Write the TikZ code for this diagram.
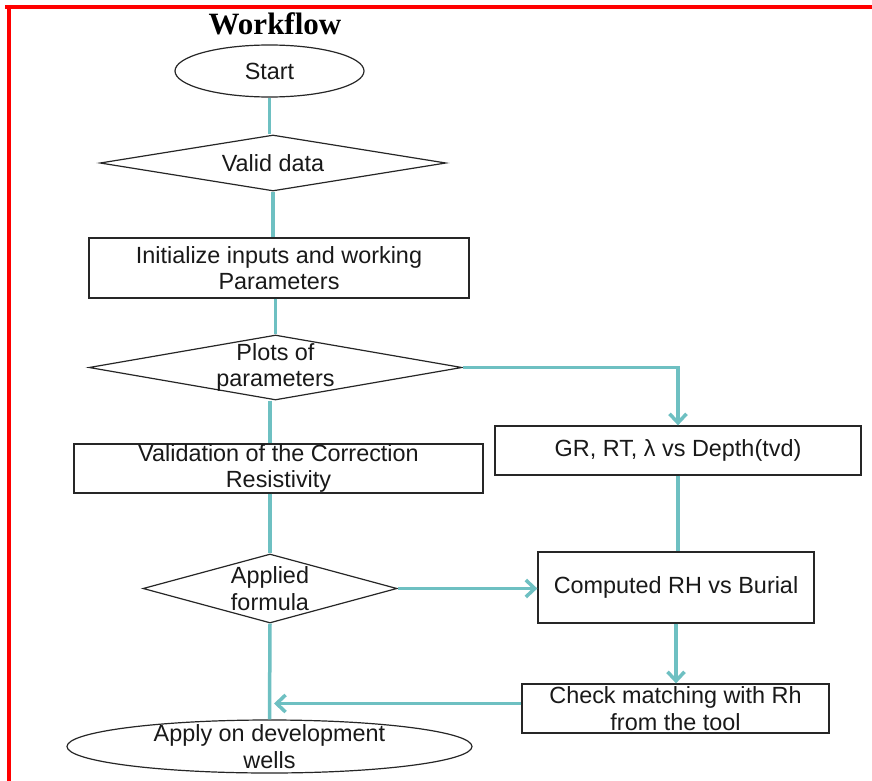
\documentclass[tikz,border=0pt]{standalone}
\usepackage{fontspec}
\setmainfont{Liberation Sans}
\newfontfamily\titlefont{Liberation Serif}
\usetikzlibrary{shapes.geometric,arrows.meta}
\definecolor{tealc}{RGB}{110,192,194}
\begin{document}
\begin{tikzpicture}[x=1pt,y=-1pt,
  txt/.style={font=\fontsize{23.4}{26.5}\selectfont, align=center, text=black!90},
  boxn/.style={draw=black!85, line width=1.3pt, rectangle, inner sep=0pt, txt},
  dia/.style={draw=black!85, line width=1.2pt, diamond, inner sep=0pt},
  ell/.style={draw=black!85, line width=1.2pt, ellipse, inner sep=0pt},
  conn/.style={draw=tealc, line width=3.5pt},
  arr/.style={conn, -{Straight Barb[length=9pt,width=17pt]}},
]
\useasboundingbox (0,0) rectangle (872,781);
\fill[white] (0,0) rectangle (872,781);
\draw[red, line width=4pt] (5,7) -- (872,7);
\draw[red, line width=4pt] (9,5) -- (9,781);

\node[font=\titlefont\bfseries\fontsize{31}{31}\selectfont] (title) at (275,24) {Workflow};

\node[ell, minimum width=189pt, minimum height=52pt, txt] (start) at (269.5,71) {Start};
\node[dia, minimum width=346pt, minimum height=56pt, label={[txt]center:Valid data}] (valid) at (273,163) {};
\node[boxn, minimum width=380pt, minimum height=60pt] (init) at (279,268) {Initialize inputs and working\\Parameters};
\node[dia, minimum width=373pt, minimum height=65pt, label={[txt]center:{Plots of\\parameters}}] (plots) at (275.5,367.5) {};
\node[boxn, minimum width=409pt, minimum height=49pt] (valid2) at (278.5,468.5) {Validation of the Correction\\Resistivity};
\node[boxn, minimum width=366pt, minimum height=49pt] (gr) at (678,450.5) {GR, RT, λ vs Depth(tvd)};
\node[dia, minimum width=254pt, minimum height=69pt, label={[txt]center:{Applied\\formula}}] (applied) at (270,588.5) {};
\node[boxn, minimum width=276pt, minimum height=71pt] (comp) at (676,587.5) {Computed RH vs Burial};
\node[boxn, minimum width=307pt, minimum height=49pt] (check) at (675.5,708.5) {Check matching with Rh\\from the tool};
\node[ell, minimum width=405pt, minimum height=53pt, label={[txt]center:{Apply on development\\wells}}] (apply) at (269.5,746.5) {};

\draw[conn] (start.south) -- (start.south |- valid.north);
\draw[conn] (valid.south) -- (valid.south |- init.north);
\draw[conn] (plots.north |- init.south) -- (plots.north);
\draw[conn] (applied.north |- plots.south) -- (applied.north |- valid2.north);
\draw[conn] (applied.north |- valid2.south) -- (applied.north);
\draw[conn] (applied.south) -- (apply.north);
\draw[arr] (plots.east) -| (gr.north);
\draw[conn] (gr.south) -- (gr.south |- comp.north);
\draw[arr] (applied.east) -- (applied.east -| comp.west);
\draw[arr] (comp.south) -- (comp.south |- check.north);
\draw[arr, shorten >=4pt] ([yshift=5pt]check.west) -- ([yshift=5pt]check.west -| applied.south);
\end{tikzpicture}
\end{document}
